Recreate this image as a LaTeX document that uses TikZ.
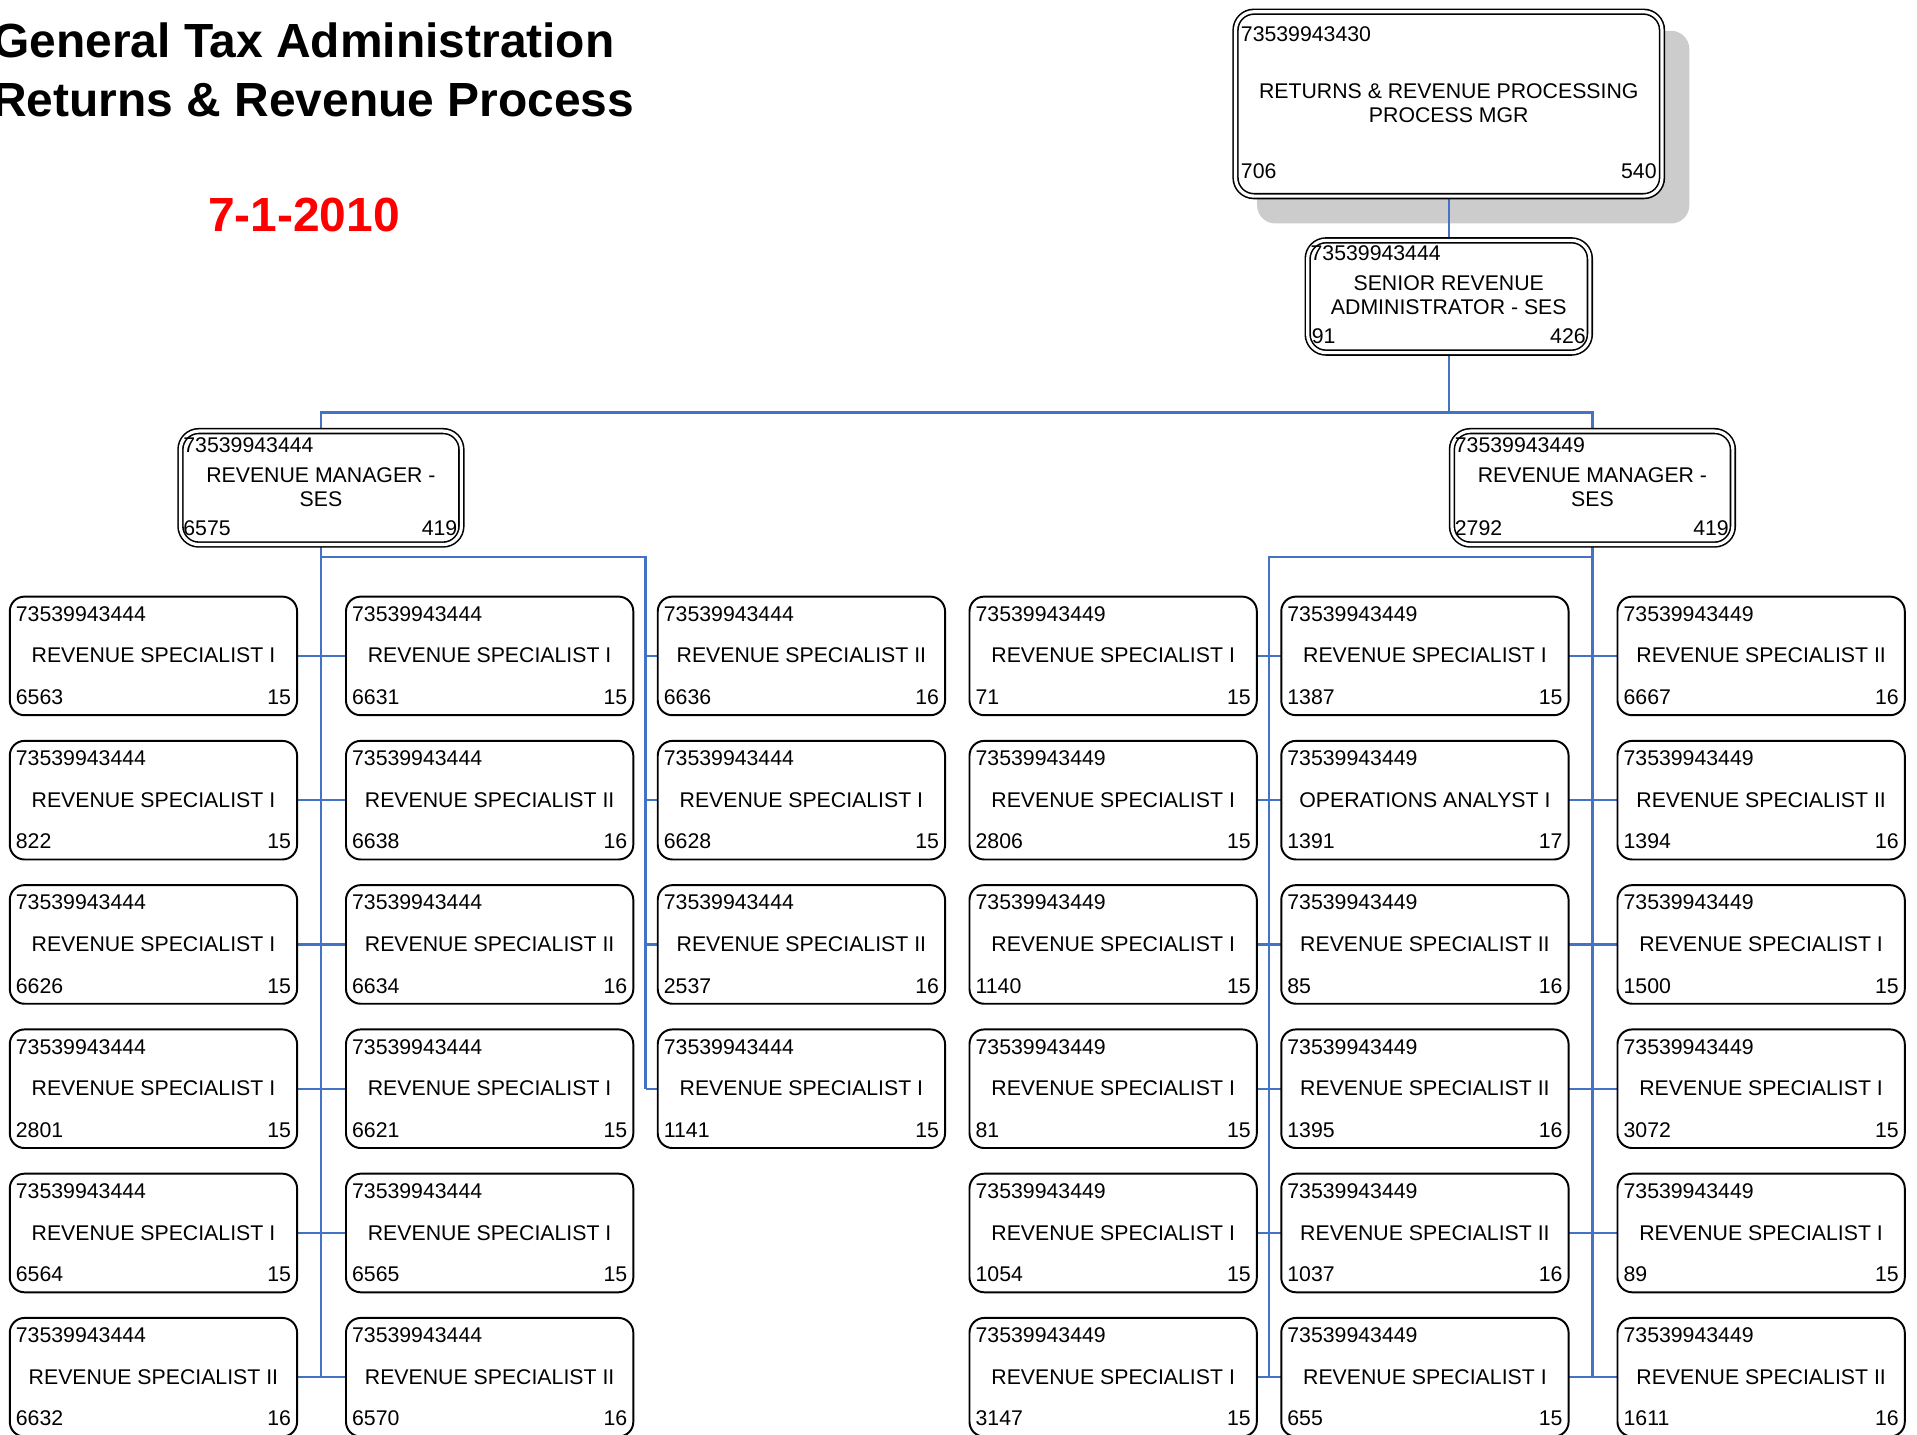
\documentclass[tikz,border=0pt]{standalone}
\usepackage{fontspec}
\setmainfont{Liberation Sans}
\usetikzlibrary{calc,backgrounds}

\definecolor{linkblue}{RGB}{68,114,196}
\definecolor{shadegray}{RGB}{204,204,204}
\definecolor{datered}{RGB}{255,0,0}

\tikzset{
  box/.style={draw=black, line width=1.6pt, fill=white, rounded corners=12pt,
    minimum width=235pt, minimum height=97pt, inner sep=0pt, outer sep=0pt},
  dbox/.style={draw=black, fill=white, line width=1.3pt, double=white,
    double distance=2.6pt, rounded corners=15pt, inner sep=0pt, outer sep=0pt},
  txt/.style={inner sep=0pt, outer sep=0pt, font=\fontsize{17.4}{20}\selectfont,
    text height=12.5pt, text depth=0pt},
  headline/.style={inner sep=0pt, anchor=base west, font=\fontsize{39.2}{47}\selectfont\bfseries},
  conn/.style={draw=linkblue, line width=1.8pt},
}

% one specialist box: name, left x, top y, id, title, left number, right number
\newcommand\spec[7]{%
  \node[box] (#1) at (#2+117.5,#3+48.5) {};
  \node[txt,anchor=west] (#1i) at ($(#1.north west)+(5,14)$) {#4};
  \node[txt] (#1t) at ($(#1.north)+(0,48)$) {#5};
  \node[txt,anchor=west] (#1l) at ($(#1.south west)+(5,-15)$) {#6};
  \node[txt,anchor=east] (#1r) at ($(#1.south east)+(-5,-15)$) {#7};
}

% one revenue manager box: name, centre x, id, left number
\newcommand\mgr[4]{%
  \node[dbox, minimum width=229.8pt, minimum height=92.8pt] (#1) at (#2,399) {};
  \node[txt,anchor=west] (#1i) at ($(#1.north west)+(2.4,11.4)$) {#3};
  \node[txt] (#1a) at ($(#1.north)+(0,35.4)$) {REVENUE MANAGER -};
  \node[txt] (#1b) at ($(#1.north)+(0,55.4)$) {SES};
  \node[txt,anchor=west] (#1l) at ($(#1.south west)+(2.4,-13.4)$) {#4};
  \node[txt,anchor=east] (#1r) at ($(#1.south east)+(-3.4,-13.4)$) {419};
}

\begin{document}
\begin{tikzpicture}[x=1pt,y=-1pt]
\clip (0,0) rectangle (1568,1173);

% heading
\node[headline] (head1) at (-6.5,47) {General Tax Administration};
\node[headline] (head2) at (-6.5,95) {Returns \& Revenue Process};
\node[headline, text=datered] (date) at (170,189) {7-1-2010};

% process manager
\node[dbox, minimum width=348.8pt, minimum height=150.8pt] (top) at (1185,85) {};
\node[txt,anchor=west] (topi) at ($(top.north west)+(4.4,18.4)$) {73539943430};
\node[txt] (topa) at ($(top.north)+(0,64.4)$) {RETURNS \& REVENUE PROCESSING};
\node[txt] (topb) at ($(top.north)+(0,84.4)$) {PROCESS MGR};
\node[txt,anchor=west] (topl) at ($(top.south west)+(4.4,-20.4)$) {706};
\node[txt,anchor=east] (topr) at ($(top.south east)+(-4.4,-20.4)$) {540};

% senior administrator
\node[dbox, minimum width=230.8pt, minimum height=91.8pt] (sen) at (1185,242.5) {};
\node[txt,anchor=west] (seni) at ($(sen.north west)+(2.4,10.4)$) {73539943444};
\node[txt] (sena) at ($(sen.north)+(0,34.4)$) {SENIOR REVENUE};
\node[txt] (senb) at ($(sen.north)+(0,54.4)$) {ADMINISTRATOR - SES};
\node[txt,anchor=west] (senl) at ($(sen.south west)+(3.4,-13.4)$) {91};
\node[txt,anchor=east] (senr) at ($(sen.south east)+(-3.4,-13.4)$) {426};

% revenue managers
\mgr{mL}{262.5}{73539943444}{6575}
\mgr{mR}{1302.5}{73539943449}{2792}

% specialists, left branch
\spec{s11}{8}{488}{73539943444}{REVENUE SPECIALIST I}{6563}{15}
\spec{s21}{8}{606}{73539943444}{REVENUE SPECIALIST I}{822}{15}
\spec{s31}{8}{724}{73539943444}{REVENUE SPECIALIST I}{6626}{15}
\spec{s41}{8}{842}{73539943444}{REVENUE SPECIALIST I}{2801}{15}
\spec{s51}{8}{960}{73539943444}{REVENUE SPECIALIST I}{6564}{15}
\spec{s61}{8}{1078}{73539943444}{REVENUE SPECIALIST II}{6632}{16}

\spec{s12}{283}{488}{73539943444}{REVENUE SPECIALIST I}{6631}{15}
\spec{s22}{283}{606}{73539943444}{REVENUE SPECIALIST II}{6638}{16}
\spec{s32}{283}{724}{73539943444}{REVENUE SPECIALIST II}{6634}{16}
\spec{s42}{283}{842}{73539943444}{REVENUE SPECIALIST I}{6621}{15}
\spec{s52}{283}{960}{73539943444}{REVENUE SPECIALIST I}{6565}{15}
\spec{s62}{283}{1078}{73539943444}{REVENUE SPECIALIST II}{6570}{16}

\spec{s13}{538}{488}{73539943444}{REVENUE SPECIALIST II}{6636}{16}
\spec{s23}{538}{606}{73539943444}{REVENUE SPECIALIST I}{6628}{15}
\spec{s33}{538}{724}{73539943444}{REVENUE SPECIALIST II}{2537}{16}
\spec{s43}{538}{842}{73539943444}{REVENUE SPECIALIST I}{1141}{15}

% specialists, right branch
\spec{s14}{793}{488}{73539943449}{REVENUE SPECIALIST I}{71}{15}
\spec{s24}{793}{606}{73539943449}{REVENUE SPECIALIST I}{2806}{15}
\spec{s34}{793}{724}{73539943449}{REVENUE SPECIALIST I}{1140}{15}
\spec{s44}{793}{842}{73539943449}{REVENUE SPECIALIST I}{81}{15}
\spec{s54}{793}{960}{73539943449}{REVENUE SPECIALIST I}{1054}{15}
\spec{s64}{793}{1078}{73539943449}{REVENUE SPECIALIST I}{3147}{15}

\spec{s15}{1048}{488}{73539943449}{REVENUE SPECIALIST I}{1387}{15}
\spec{s25}{1048}{606}{73539943449}{OPERATIONS ANALYST I}{1391}{17}
\spec{s35}{1048}{724}{73539943449}{REVENUE SPECIALIST II}{85}{16}
\spec{s45}{1048}{842}{73539943449}{REVENUE SPECIALIST II}{1395}{16}
\spec{s55}{1048}{960}{73539943449}{REVENUE SPECIALIST II}{1037}{16}
\spec{s65}{1048}{1078}{73539943449}{REVENUE SPECIALIST I}{655}{15}

\spec{s16}{1323}{488}{73539943449}{REVENUE SPECIALIST II}{6667}{16}
\spec{s26}{1323}{606}{73539943449}{REVENUE SPECIALIST II}{1394}{16}
\spec{s36}{1323}{724}{73539943449}{REVENUE SPECIALIST I}{1500}{15}
\spec{s46}{1323}{842}{73539943449}{REVENUE SPECIALIST I}{3072}{15}
\spec{s56}{1323}{960}{73539943449}{REVENUE SPECIALIST I}{89}{15}
\spec{s66}{1323}{1078}{73539943449}{REVENUE SPECIALIST II}{1611}{16}

\begin{pgfonlayer}{background}
  \fill[white] (0,0) rectangle (1568,1173);

  % drop shadow of the process manager box
  \fill[shadegray, rounded corners=15pt]
    ($(top.north west)+(17.6,15.6)$) rectangle ($(top.south east)+(22.4,22.4)$);

  % upper tiers
  \draw[conn] (top.south) -- (sen.north);
  \draw[conn] (sen.south) -- ++(0,49) -| (mL.north);
  \draw[conn] (sen.south) -- ++(0,49) -| (mR.north);

  % left branch
  \coordinate (jL) at ($(s12.east)!0.5!(s13.west)$);
  \draw[conn] (mL.south) -- (mL.south |- s61.east);
  \draw[conn] (mL.south) -- ++(0,10) -| (jL |- s43.west);
  \foreach \r in {1,...,6} {\draw[conn] (s\r1.east) -- (s\r2.west);}
  \foreach \r in {1,...,4} {\draw[conn] (jL |- s\r3.west) -- (s\r3.west);}

  % right branch
  \coordinate (jR) at ($(s14.east)!0.5!(s15.west)$);
  \draw[conn] (mR.south) -- (mR.south |- s66.west);
  \draw[conn] (mR.south) -- ++(0,10) -| (jR |- s64.east);
  \foreach \r in {1,...,6} {
    \draw[conn] (s\r4.east) -- (s\r5.west);
    \draw[conn] (s\r5.east) -- (s\r6.west);
  }
\end{pgfonlayer}
\end{tikzpicture}
\end{document}
